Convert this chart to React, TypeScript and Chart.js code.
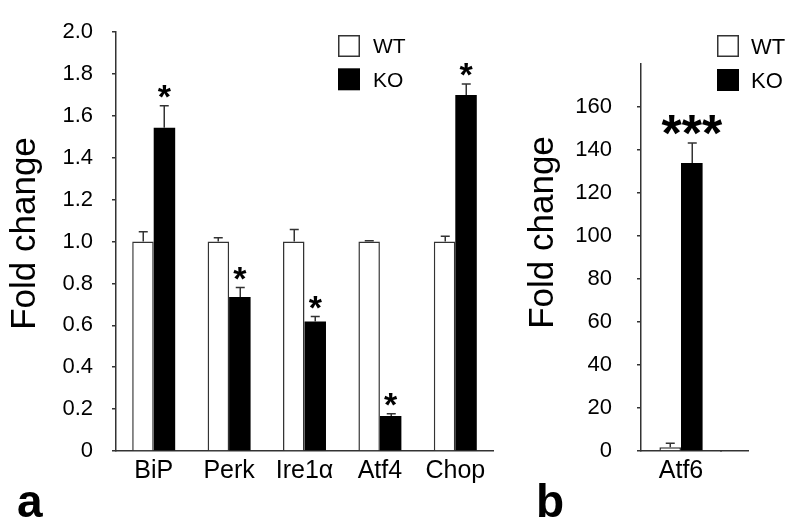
import React, { useEffect, useRef } from 'react';
import { Chart, registerables } from 'chart.js';

Chart.register(...registerables);

const FONT = '"Liberation Sans", Arial, Helvetica, sans-serif';

// ---- Data ----
const seriesNames = ['WT', 'KO'];
const yTitle = 'Fold change';

const categoriesA = ['BiP', 'Perk', 'Ire1α', 'Atf4', 'Chop'];
const wtA = [1.0, 1.0, 1.0, 1.0, 1.0];
const wtErrA = [0.047, 0.018, 0.058, 0.004, 0.026];
const koA = [1.544, 0.736, 0.619, 0.167, 1.7];
const koErrA = [0.105, 0.045, 0.023, 0.011, 0.053];
const sigA = ['*', '*', '*', '*', '*'];
const yMaxA = 2.0;
const yStepA = 0.2;

const categoriesB = ['Atf6'];
const wtB = [1.7];
const wtErrB = [1.9];
const koB = [134];
const koErrB = [9.2];
const sigB = ['***'];
const yMaxB = 180;
const yStepB = 20;
const hiddenTickB = 180;

const panelLabels = ['a', 'b'];

const AXIS = '#333';

function alignPx(p: number, w: number) {
  return Math.round(p - w / 2) + w / 2;
}

const annotPlugin = {
  id: 'annot',
  afterDatasetsDraw(chart: any, _args: any, opts: any) {
    const ctx = chart.ctx;
    const ys = chart.scales.y;
    ctx.save();
    chart.data.datasets.forEach((ds: any, di: number) => {
      const meta = chart.getDatasetMeta(di);
      const errs = opts.errs[di];
      meta.data.forEach((el: any, i: number) => {
        const v = ds.data[i];
        const top = ys.getPixelForValue(v + errs[i]);
        const x = Math.round(el.x) + 0.25;
        ctx.strokeStyle = AXIS;
        ctx.lineWidth = 1.5;
        ctx.beginPath();
        ctx.moveTo(x, el.y);
        ctx.lineTo(x, top);
        ctx.moveTo(x - opts.capHalf, top);
        ctx.lineTo(x + opts.capHalf, top);
        ctx.stroke();
        if (di === 1 && opts.sig[i]) {
          ctx.fillStyle = '#000';
          ctx.font = `bold ${opts.sigSize}px ${FONT}`;
          ctx.textAlign = 'center';
          ctx.textBaseline = 'alphabetic';
          const m = ctx.measureText(opts.sig[i]);
          const cy = top - opts.sigGap;
          const base = cy + (m.actualBoundingBoxAscent - m.actualBoundingBoxDescent) / 2;
          ctx.fillText(opts.sig[i], el.x, base);
        }
      });
    });
    ctx.restore();
  },
  afterDraw(chart: any, _args: any, opts: any) {
    const ctx = chart.ctx;
    const ca = chart.chartArea;
    ctx.save();
    // axis extension
    if (opts.axisExtend) {
      const y = alignPx(ca.bottom, 1.5);
      ctx.strokeStyle = AXIS;
      ctx.lineWidth = 1.5;
      ctx.beginPath();
      ctx.moveTo(ca.right - 1, y);
      ctx.lineTo(ca.right + opts.axisExtend, y);
      ctx.stroke();
    }
    // y title
    ctx.save();
    ctx.translate(opts.title.x, opts.title.cy);
    ctx.rotate(-Math.PI / 2);
    ctx.fillStyle = '#000';
    ctx.font = `${opts.title.size}px ${FONT}`;
    ctx.textAlign = 'center';
    ctx.textBaseline = 'alphabetic';
    ctx.fillText(yTitle, 0, 0);
    ctx.restore();
    // legend
    const lg = opts.legend;
    seriesNames.forEach((name, i) => {
      const by = lg.y + i * lg.step;
      if (i === 0) {
        ctx.fillStyle = '#fff';
        ctx.fillRect(lg.x, by, lg.box, lg.box);
        ctx.strokeStyle = AXIS;
        ctx.lineWidth = 1.5;
        ctx.strokeRect(lg.x + 0.75, by + 0.75, lg.box - 1.5, lg.box - 1.5);
      } else {
        ctx.fillStyle = '#000';
        ctx.fillRect(lg.x, by, lg.box, lg.box);
      }
      ctx.fillStyle = '#000';
      ctx.font = `${lg.size}px ${FONT}`;
      ctx.textAlign = 'left';
      ctx.textBaseline = 'middle';
      ctx.fillText(name, lg.x + lg.textGap, by + lg.box / 2 + 1.5);
    });
    // panel label
    ctx.fillStyle = '#000';
    ctx.font = `bold ${opts.panel.size}px ${FONT}`;
    ctx.textAlign = 'left';
    ctx.textBaseline = 'alphabetic';
    ctx.fillText(opts.panel.text, opts.panel.x, opts.panel.y);
    ctx.restore();
  },
};

function makeConfig(p: {
  labels: string[];
  wt: number[];
  ko: number[];
  errs: number[][];
  sig: string[];
  yMax: number;
  yStep: number;
  hidden?: number;
  fmt: (v: number) => string;
  padTop: number;
  padRight: number;
  yWidth: number;
  catPct: number;
  tickPad: number;
  annot: any;
}) {
  return {
    type: 'bar',
    data: {
      labels: p.labels,
      datasets: [
        {
          label: seriesNames[0],
          data: p.wt,
          backgroundColor: '#fff',
          borderColor: AXIS,
          borderWidth: 1.5,
          borderSkipped: 'start',
        },
        {
          label: seriesNames[1],
          data: p.ko,
          backgroundColor: '#000',
          borderColor: '#000',
          borderWidth: 0,
        },
      ],
    },
    options: {
      responsive: false,
      animation: false,
      devicePixelRatio: 1,
      layout: { padding: { left: 0, top: p.padTop, right: p.padRight, bottom: 0 } },
      datasets: { bar: { barPercentage: 1, categoryPercentage: p.catPct } },
      plugins: {
        legend: { display: false },
        tooltip: { enabled: false },
        annot: { ...p.annot, errs: p.errs, sig: p.sig },
      },
      scales: {
        x: {
          grid: { display: false, drawTicks: false },
          border: { display: true, color: AXIS, width: 1.5 },
          ticks: {
            font: { family: FONT, size: 25 },
            color: '#000',
            padding: 5,
            maxRotation: 0,
            autoSkip: false,
          },
          afterFit: (s: any) => {
            s.height = 75;
          },
        },
        y: {
          min: 0,
          max: p.yMax,
          ticks: {
            stepSize: p.yStep,
            font: { family: FONT, size: 22 },
            color: '#000',
            padding: p.tickPad,
            callback: (v: any) => (p.hidden !== undefined && Math.abs(v - p.hidden) < 1e-9 ? '' : p.fmt(v)),
          },
          grid: {
            drawOnChartArea: false,
            drawTicks: true,
            tickLength: 4,
            lineWidth: 1.5,
            color: AXIS,
            tickColor: (c: any) =>
              p.hidden !== undefined && c.tick && Math.abs(c.tick.value - p.hidden) < 1e-9 ? 'rgba(0,0,0,0)' : AXIS,
          },
          border: { display: true, color: AXIS, width: 1.5 },
          afterFit: (s: any) => {
            s.width = p.yWidth;
          },
        },
      },
    },
    plugins: [annotPlugin],
  };
}

const configA = () =>
  makeConfig({
    labels: categoriesA,
    wt: wtA,
    ko: koA,
    errs: [wtErrA, koErrA],
    sig: sigA,
    yMax: yMaxA,
    yStep: yStepA,
    fmt: (v) => (v === 0 ? '0' : v.toFixed(1)),
    padTop: 20,
    padRight: 27,
    yWidth: 116,
    catPct: 0.57,
    tickPad: 19,
    annot: {
      capHalf: 4.5,
      sigSize: 34,
      sigGap: 14,
      title: { x: 35, cy: 233.5, size: 35 },
      legend: { x: 338, y: 35, step: 33.3, box: 22, size: 21, textGap: 35 },
      panel: { text: panelLabels[0], x: 17, y: 517, size: 46 },
    },
  });

const configB = () =>
  makeConfig({
    labels: categoriesB,
    wt: wtB,
    ko: koB,
    errs: [wtErrB, koErrB],
    sig: sigB,
    yMax: yMaxB,
    yStep: yStepB,
    hidden: hiddenTickB,
    fmt: (v) => String(v),
    padTop: 64,
    padRight: 79,
    yWidth: 121,
    catPct: 0.54,
    tickPad: 25,
    annot: {
      capHalf: 4.5,
      sigSize: 52,
      sigGap: 18,
      axisExtend: 28,
      title: { x: 33, cy: 232.5, size: 35 },
      legend: { x: 197, y: 35, step: 34, box: 22, size: 22, textGap: 34 },
      panel: { text: panelLabels[1], x: 16, y: 517, size: 46 },
    },
  });

function ChartCanvas({ makeCfg, left, width }: { makeCfg: () => any; left: number; width: number }) {
  const ref = useRef<HTMLCanvasElement>(null);
  useEffect(() => {
    const chart = new Chart(ref.current as HTMLCanvasElement, makeCfg());
    return () => chart.destroy();
  }, []);
  return (
    <canvas
      ref={ref}
      width={width}
      height={526}
      style={{ position: 'absolute', left, top: 0, width, height: 526, display: 'block' }}
    />
  );
}

export default function App() {
  return (
    <div style={{ position: 'absolute', left: 0, top: 0, width: 800, height: 526, background: '#fff', overflow: 'hidden' }}>
      <ChartCanvas makeCfg={configA} left={0} width={520} />
      <ChartCanvas makeCfg={configB} left={520} width={280} />
    </div>
  );
}
